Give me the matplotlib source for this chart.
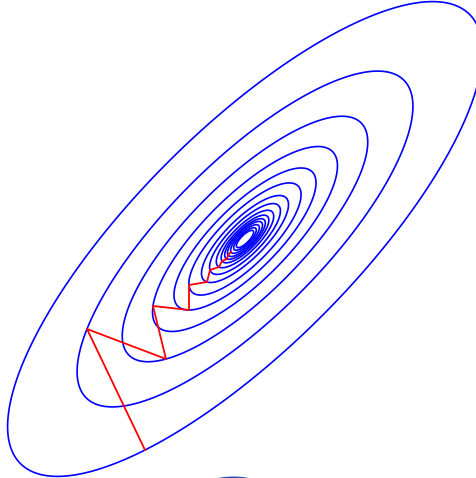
import numpy as np
import matplotlib
matplotlib.use("Agg")
import matplotlib.pyplot as plt
from matplotlib.patches import Ellipse

# Quadratic bowl f(x, y) = a*x^2 + 2*b*x*y + c*y^2 (minimum at origin)
coef_a = 1.0
coef_b = -0.79
coef_c = 1.0

# Gradient-descent iterates
path_x = [-1.00, -1.58, -0.79, -0.92, -0.56, -0.56, -0.38, -0.35, -0.26, -0.23, -0.18, -0.17, -0.14]
path_y = [-2.11, -0.90, -1.20, -0.67, -0.71, -0.46, -0.43, -0.31, -0.28, -0.22, -0.20, -0.16, -0.13]

# extra inner contour levels (smallest rings near the minimum)
inner_levels = [0.0048, 0.0028]


def f(x, y):
    return coef_a * x**2 + 2 * coef_b * x * y + coef_c * y**2


fig = plt.figure(figsize=(4.76, 4.78), dpi=100)
ax = fig.add_axes([0, 0, 1, 1])

gx = np.linspace(-2.7, 2.7, 800)
gy = np.linspace(-2.7, 2.7, 800)
X, Y = np.meshgrid(gx, gy)
Z = f(X, Y)

px = np.array(path_x)
py = np.array(path_y)
levels = sorted(set(list(f(px, py)) + inner_levels))
ax.contour(X, Y, Z, levels=levels, colors="#0000ff", linewidths=1.2)
ax.plot(px, py, color="#ff0000", linewidth=1.3)

# small partial ring peeking in at the bottom edge
ax.add_patch(Ellipse((-0.115, -2.42), 0.36, 0.07, fill=False,
                     edgecolor="#2a4fb5", linewidth=1.4))

ax.set_xlim(-2.45, 2.31)
ax.set_ylim(-2.39, 2.39)
ax.axis("off")

fig.savefig("out.png", dpi=100)
